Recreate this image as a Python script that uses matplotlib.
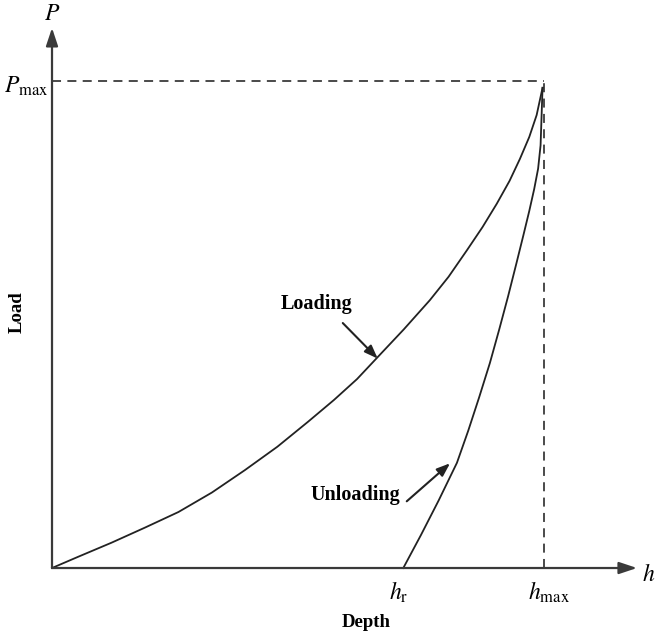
import matplotlib.pyplot as plt

plt.rcParams['mathtext.fontset'] = 'stix'
plt.rcParams['font.family'] = 'Liberation Serif'

# Loading / unloading curves (depth h and load P, normalised to h_max, P_max)
load_h = [0.0, 0.053, 0.121, 0.189, 0.257, 0.325, 0.392, 0.458, 0.520, 0.573,
          0.620, 0.660, 0.715, 0.768, 0.806, 0.843, 0.875, 0.904, 0.930, 0.951,
          0.970, 0.985, 0.997]
load_P = [0.0, 0.023, 0.052, 0.083, 0.115, 0.155, 0.201, 0.249, 0.300, 0.345,
          0.388, 0.431, 0.490, 0.550, 0.598, 0.652, 0.700, 0.748, 0.795, 0.840,
          0.885, 0.930, 0.986]

unload_h = [0.714, 0.750, 0.786, 0.823, 0.846, 0.868, 0.890, 0.909, 0.927, 0.944,
            0.958, 0.970, 0.980, 0.988, 0.993, 0.997]
unload_P = [0.0, 0.068, 0.139, 0.216, 0.282, 0.350, 0.421, 0.490, 0.558, 0.626,
            0.683, 0.733, 0.778, 0.820, 0.868, 0.986]

h_max = 1.0
P_max = 1.0
h_r = unload_h[0]

fig = plt.figure(figsize=(6.56, 6.38), dpi=100)
ax = fig.add_axes([0, 0, 1, 1])
ax.set_xlim(-0.1057, 1.2276)
ax.set_ylim(-0.1437, 1.1663)
ax.axis('off')

axis_col = '#3a3a3a'
# axes with arrows
ax.annotate('', xy=(0, 1.109), xytext=(0, 0),
            arrowprops=dict(arrowstyle='-|>,head_length=0.9,head_width=0.3',
                            mutation_scale=12, lw=1.6, color=axis_col,
                            shrinkA=0, shrinkB=0))
ax.annotate('', xy=(1.189, 0), xytext=(0, 0),
            arrowprops=dict(arrowstyle='-|>,head_length=0.9,head_width=0.3',
                            mutation_scale=12, lw=1.6, color=axis_col,
                            shrinkA=0, shrinkB=0))

# dashed guide lines to the peak
ax.plot([0, h_max], [P_max, P_max], ls=(0, (5, 3.5)), lw=1.3, color='#3c3c3c')
ax.plot([h_max, h_max], [0, P_max], ls=(0, (5, 3.5)), lw=1.3, color='#3c3c3c')

ax.plot(load_h, load_P, color='#222222', lw=1.3)
ax.plot(unload_h, unload_P, color='#222222', lw=1.3)

# axis symbols
ax.text(0, 1.137, '$P$', fontsize=17, ha='center', va='center')
ax.text(-0.008, 0.99, r'$P_{\mathrm{max}}$', fontsize=17, ha='right', va='center')
ax.text(1.213, -0.014, '$h$', fontsize=17, ha='center', va='center')
ax.text(h_r - 0.01, -0.025, r'$h_{\mathrm{r}}$', fontsize=17, ha='center', va='top')
ax.text(h_max + 0.01, -0.025, r'$h_{\mathrm{max}}$', fontsize=17, ha='center', va='top')

ax.text(-0.070, 0.526, 'Load', fontsize=13.5, fontweight='bold', rotation=90,
        ha='center', va='center')
ax.text(0.638, -0.111, 'Depth', fontsize=13.5, fontweight='bold',
        ha='center', va='center')

# curve labels
ax.text(0.538, 0.542, 'Loading', fontsize=14.5, fontweight='bold',
        ha='center', va='center')
ax.annotate('', xy=(0.662, 0.430), xytext=(0.591, 0.503),
            arrowprops=dict(arrowstyle='-|>,head_length=0.8,head_width=0.3',
                            mutation_scale=10, lw=1.5, color='#222222',
                            shrinkA=0, shrinkB=0))
ax.text(0.616, 0.150, 'Unloading', fontsize=14.5, fontweight='bold',
        ha='center', va='center')
ax.annotate('', xy=(0.809, 0.215), xytext=(0.721, 0.137),
            arrowprops=dict(arrowstyle='-|>,head_length=0.8,head_width=0.3',
                            mutation_scale=10, lw=1.5, color='#222222',
                            shrinkA=0, shrinkB=0))

fig.savefig('out.png', dpi=100, facecolor='white')
